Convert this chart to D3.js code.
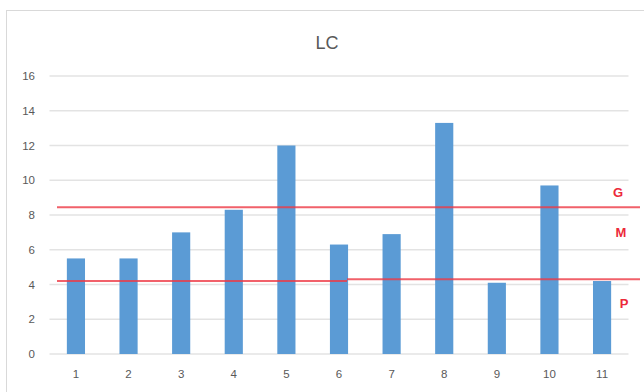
<!DOCTYPE html>
<html>
<head>
<meta charset="utf-8">
<script src="https://cdn.jsdelivr.net/npm/d3@7"></script>
<style>
  html, body { margin: 0; padding: 0; background: #fff; }
  svg { display: block; font-family: "Liberation Sans", "Open Sans", sans-serif; }
</style>
</head>
<body>
<svg id="chart" width="644" height="392"></svg>
<script>
// LC values per sample
const categories = ["1", "2", "3", "4", "5", "6", "7", "8", "9", "10", "11"];
const lcValues = [5.5, 5.5, 7.0, 8.3, 12.0, 6.3, 6.9, 13.3, 4.1, 9.7, 4.2];
const yTicks = [0, 2, 4, 6, 8, 10, 12, 14, 16];
// class boundaries (left half / right half of the line) and zone labels
const upperLimit = [8.45, 8.45];
const lowerLimit = [4.2, 4.3];
const zoneLabels = [
  { text: "G", value: 9.3 },
  { text: "M", value: 7.0 },
  { text: "P", value: 2.9 }
];

const svg = d3.select("#chart");
const W = 644, H = 392;
const margin = { left: 49.5, right: 15.5, top: 76, bottom: 38 };

// chart frame
svg.append("rect")
  .attr("x", 6.5).attr("y", 10.5)
  .attr("width", W + 10).attr("height", H + 10)
  .attr("fill", "#fff").attr("stroke", "#d9d9d9").attr("stroke-width", 1);

const x = d3.scaleBand()
  .domain(categories)
  .range([margin.left, W - margin.right])
  .paddingInner(0.655).paddingOuter(0.33);

const y = d3.scaleLinear()
  .domain([0, 16])
  .range([354, 76]);

// gridlines
svg.append("g")
  .selectAll("line")
  .data(yTicks)
  .join("line")
  .attr("x1", margin.left).attr("x2", W - margin.right)
  .attr("y1", d => y(d)).attr("y2", d => y(d))
  .attr("stroke", "#e3e3e3").attr("stroke-width", 1.6);

// y axis labels
const yAxis = d3.axisLeft(y).tickValues(yTicks).tickSize(0).tickPadding(0);
svg.append("g")
  .attr("transform", "translate(35,0)")
  .call(yAxis)
  .call(g => g.select(".domain").remove())
  .call(g => g.selectAll("text")
    .attr("fill", "#595959").attr("font-size", 11.5));

// x axis labels
const xAxis = d3.axisBottom(x).tickSize(0).tickPadding(0);
svg.append("g")
  .attr("transform", "translate(0,370)")
  .call(xAxis)
  .call(g => g.select(".domain").remove())
  .call(g => g.selectAll("text")
    .attr("fill", "#595959").attr("font-size", 11.5));

// bars
svg.append("g")
  .selectAll("rect")
  .data(lcValues)
  .join("rect")
  .attr("x", (d, i) => x(categories[i]))
  .attr("y", d => y(d))
  .attr("width", x.bandwidth())
  .attr("height", d => y(0) - y(d))
  .attr("fill", "#5b9bd5");

// title
svg.append("text")
  .attr("x", 327).attr("y", 49)
  .attr("text-anchor", "middle")
  .attr("fill", "#595959")
  .attr("font-size", 18)
  .text("LC");

// limit lines, each drawn in two halves
const lineLeft = 57, lineMid = 347, lineRight = 640;
function drawLimit(vals) {
  const segs = [[lineLeft, lineMid, vals[0]], [lineMid, lineRight, vals[1]]];
  svg.append("g")
    .selectAll("line")
    .data(segs)
    .join("line")
    .attr("x1", d => d[0]).attr("x2", d => d[1])
    .attr("y1", d => y(d[2])).attr("y2", d => y(d[2]))
    .attr("stroke", "#ee3a45").attr("stroke-opacity", 0.8)
    .attr("stroke-width", 2);
}
drawLimit(upperLimit);
drawLimit(lowerLimit);

// zone labels
svg.append("g")
  .selectAll("text")
  .data(zoneLabels)
  .join("text")
  .attr("x", (d, i) => 618 + i * 3)
  .attr("y", d => y(d.value))
  .attr("dy", "0.35em")
  .attr("text-anchor", "middle")
  .attr("fill", "#ec2a3a")
  .attr("font-weight", "bold")
  .attr("font-size", 13)
  .text(d => d.text);
</script>
</body>
</html>
